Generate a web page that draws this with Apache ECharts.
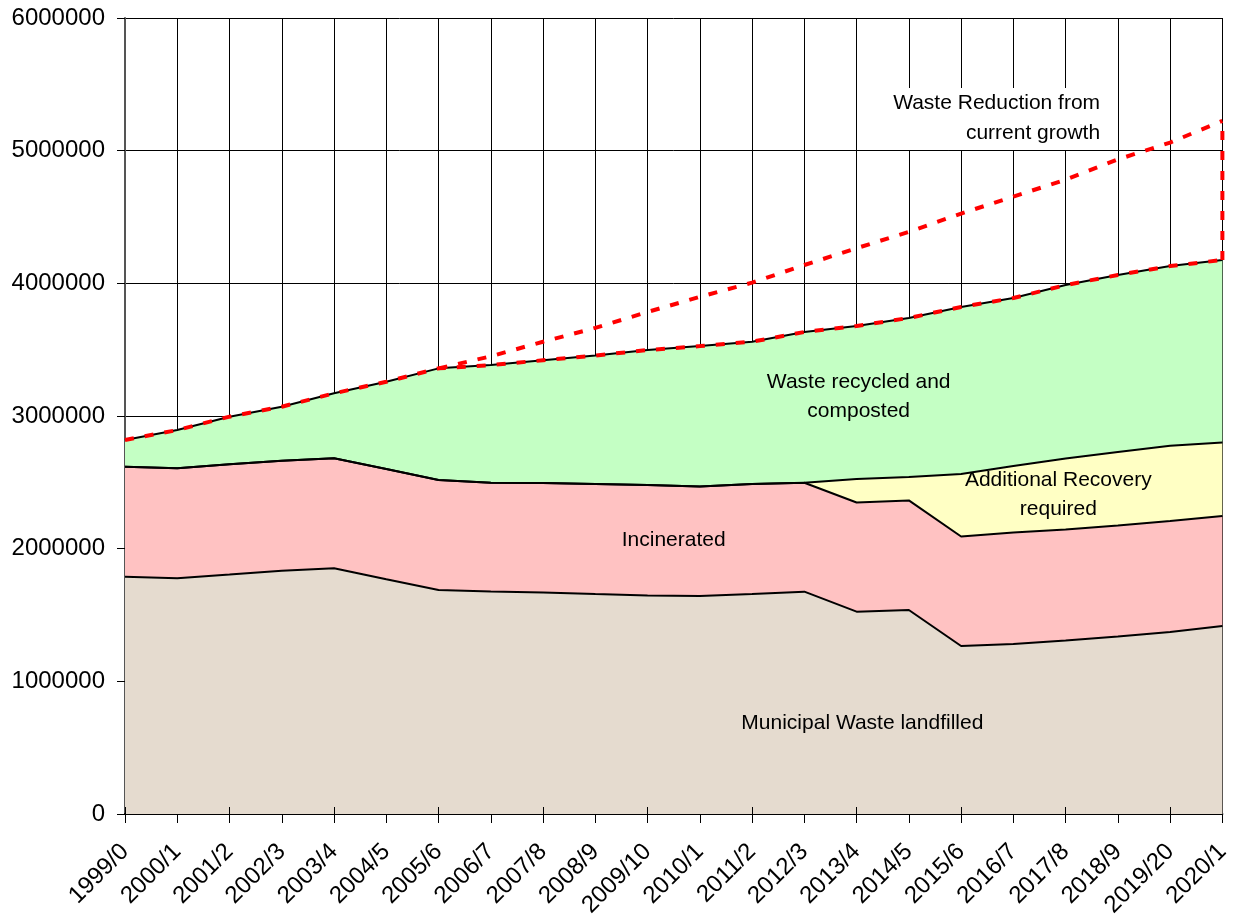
<!DOCTYPE html>
<html><head><meta charset="utf-8">
<script src="https://cdn.jsdelivr.net/npm/echarts@6/dist/echarts.min.js"></script>
<style>html,body{margin:0;padding:0;background:#fff;overflow:hidden}#c{width:1233px;height:924px}</style>
</head><body><div id="c"></div>
<script>
const years = ['1999/0','2000/1','2001/2','2002/3','2003/4','2004/5','2005/6','2006/7','2007/8','2008/9','2009/10','2010/1','2011/2','2012/3','2013/4','2014/5','2015/6','2016/7','2017/8','2018/9','2019/20','2020/1'];
const landfilled = [1789000,1777000,1805000,1834000,1852000,1769000,1688000,1677000,1670000,1658000,1647000,1643000,1658000,1676000,1525000,1538000,1266000,1281000,1308000,1338000,1372000,1417000];
const incinerated = [829000,829000,832000,828000,829000,831000,830000,820000,825000,829000,833000,826000,829000,821000,823000,826000,826000,841000,836000,837000,836000,829000];
const additionalRecovery = [0,0,0,0,0,0,0,0,0,0,0,0,0,0,177000,176000,471000,501000,535000,553000,567000,555000];
const recycledComposted = [201000,288000,358000,408000,490000,658000,841000,887000,925000,969000,1017000,1058000,1073000,1136000,1153000,1199000,1259000,1266000,1308000,1335000,1355000,1375000];
const totalArisings = [2819000,2894000,2995000,3070000,3171000,3258000,3359000,3384000,3420000,3456000,3497000,3527000,3560000,3633000,3678000,3739000,3822000,3889000,3987000,4063000,4130000,4176000];
const currentGrowth = [null,null,null,null,null,null,3359000,3450000,3560000,3664000,3784000,3898000,4005000,4138000,4265000,4388000,4526000,4654000,4781000,4934000,5061000,5225000];
const yMax = 6000000, yStep = 1000000;

const FONT = '"Liberation Sans", Arial, sans-serif';
const chart = echarts.init(document.getElementById('c'), null, {renderer:'canvas', width:1233, height:924});

function area(name, data, color){
  return {name, type:'line', stack:'w', data, symbol:'none', smooth:false,
    lineStyle:{color:'#000', width:2}, areaStyle:{color, opacity:1}, z:2};
}
const red = {color:'#ff0000', width:4, type:[9,11]};

chart.setOption({
  animation:false,
  backgroundColor:'#fff',
  grid:{left:125, top:18, width:1104, height:796, containLabel:false},
  xAxis:[{
    type:'category', data:years, boundaryGap:false,
    axisLine:{lineStyle:{color:'#000', width:2}},
    axisTick:{show:true, length:9, lineStyle:{color:'#000'}},
    axisLabel:{rotate:45, fontFamily:FONT, fontSize:24, color:'#000', margin:34, interval:0},
    splitLine:{show:true, lineStyle:{color:'#000', width:1}}
  },{
    type:'category', data:years, boundaryGap:false, position:'bottom', z:10,
    axisLine:{show:false}, axisLabel:{show:false}, splitLine:{show:false},
    axisTick:{show:true, inside:true, length:7, lineStyle:{color:'#000'}}
  }],
  yAxis:{
    type:'value', min:0, max:yMax, interval:yStep,
    axisLine:{show:true, lineStyle:{color:'#555', width:2}},
    axisTick:{show:true, length:8, lineStyle:{color:'#000'}},
    axisLabel:{fontFamily:FONT, fontSize:24, color:'#000', margin:20, formatter:v=>String(v)},
    splitLine:{show:true, lineStyle:{color:'#000', width:1}}
  },
  series:[
    area('Municipal Waste landfilled', landfilled, '#e5dbcf'),
    area('Incinerated', incinerated, '#ffc2c2'),
    area('Additional Recovery required', additionalRecovery, '#ffffc4'),
    area('Waste recycled and composted', recycledComposted, '#c4ffc4'),
    {name:'Total arisings', type:'line', data:totalArisings, symbol:'none', lineStyle:red, z:5},
    {name:'Current growth', type:'line', data:currentGrowth, symbol:'none', lineStyle:red, z:5},
    {name:'Reduction', type:'line', symbol:'none', lineStyle:red, z:5,
      data:[[years[years.length-1], totalArisings[totalArisings.length-1]],[years[years.length-1], currentGrowth[currentGrowth.length-1]]]}
  ]
});

const n = years.length;
const pA = chart.convertToPixel({gridIndex:0},[0,0]);
const pB = chart.convertToPixel({gridIndex:0},[n-1,yMax]);
function px(c,v){ return [pA[0]+c*(pB[0]-pA[0])/(n-1), pA[1]+v*(pB[1]-pA[1])/yMax]; }
const notes = [
  {t:'Waste recycled and\ncomposted', c:14.04, v:3143000},
  {t:'Incinerated', c:10.5, v:2065000},
  {t:'Additional Recovery\nrequired', c:17.86, v:2408000},
  {t:'Municipal Waste landfilled', c:14.11, v:686000}
];
const g = notes.map(o=>{const p=px(o.c,o.v); return {type:'text', x:p[0], y:p[1], z:20,
  style:{text:o.t, font:'21px '+FONT, fill:'#000', align:'center', verticalAlign:'middle', lineHeight:29}};});
const b1 = px(14.51, 5472000), b2 = px(18.70, 5005000);
g.push({type:'rect', z:19, shape:{x:b1[0], y:b1[1], width:b2[0]-b1[0], height:b2[1]-b1[1]}, style:{fill:'#fff'}});
const rp = px(18.66, 5246000);
g.push({type:'text', x:rp[0], y:rp[1], z:20, style:{text:'Waste Reduction from\ncurrent growth', font:'21px '+FONT, fill:'#000', align:'right', verticalAlign:'middle', lineHeight:30}});
chart.setOption({graphic:g});
</script>
</body></html>
